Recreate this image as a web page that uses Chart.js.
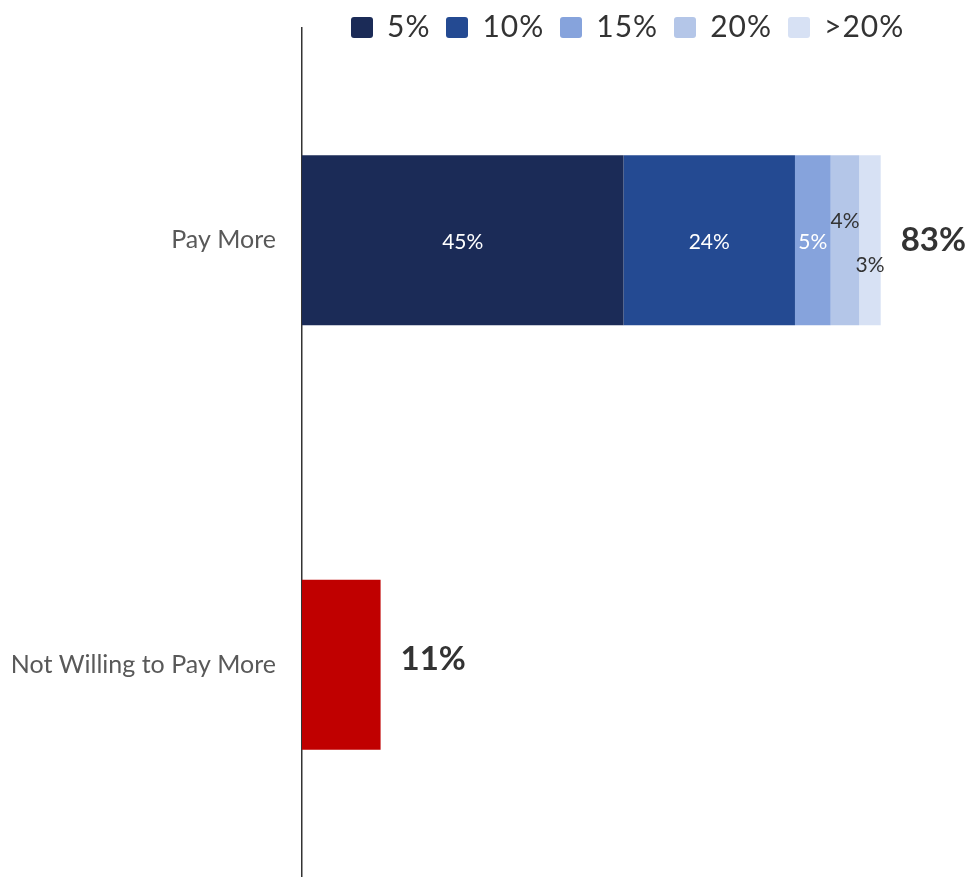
<!DOCTYPE html>
<html>
<head>
<meta charset="utf-8">
<script src="https://cdn.jsdelivr.net/npm/chart.js@4.4.1/dist/chart.umd.min.js"></script>
<style>
html,body{margin:0;padding:0;background:#fff;}
#wrap{position:relative;width:970px;height:877px;}
#legend{position:absolute;top:7px;left:351px;display:flex;align-items:center;font-family:Lato,"Open Sans",sans-serif;font-size:30px;letter-spacing:1px;color:#333;}
#legend .item{display:flex;align-items:center;margin-right:16px;}
#legend .box{width:22px;height:21px;border-radius:3px;margin-right:14px;margin-top:4px;}
</style>
</head>
<body>
<div id="wrap">
<canvas id="chart" width="970" height="877"></canvas>
<div id="legend"></div>
</div>
<script>
// categories and series
const categories = ['Pay More', 'Not Willing to Pay More'];
const bandLabels = ['5%', '10%', '15%', '20%', '>20%'];
const bandColors = ['#1b2b57', '#244a92', '#86a3dc', '#b4c6e8', '#d7e1f4'];
const payMoreBands = [45, 24, 5, 4, 3];
const notWilling = [11];
const totals = [83, 11];

const FONT = 'Lato, "Open Sans", sans-serif';

// segment label colour / vertical offset per band
const labelColor = ['#fff', '#fff', '#fff', '#333', '#333'];
const labelDy = [2, 2, 2, -19, 25];

const datasets = bandLabels.map((lab, i) => ({
  label: lab,
  data: [payMoreBands[i], null],
  backgroundColor: bandColors[i],
  stack: 's'
}));
datasets.push({
  label: 'Not Willing',
  data: [null, notWilling[0]],
  backgroundColor: '#c00000',
  stack: 's'
});

// legend built from the band arrays
const legendEl = document.getElementById('legend');
bandLabels.forEach((lab, i) => {
  const it = document.createElement('div');
  it.className = 'item';
  it.innerHTML = '<span class="box" style="background:' + bandColors[i] + '"></span><span>' + lab + '</span>';
  legendEl.appendChild(it);
});

const barLabels = {
  id: 'barLabels',
  afterDatasetsDraw(chart){
    const ctx = chart.ctx;
    ctx.save();
    ctx.textBaseline = 'middle';
    // segment values
    for(let d = 0; d < bandLabels.length; d++){
      const el = chart.getDatasetMeta(d).data[0];
      if(!el) continue;
      const v = chart.data.datasets[d].data[0];
      ctx.font = '21px ' + FONT;
      ctx.fillStyle = labelColor[d];
      ctx.textAlign = 'center';
      ctx.fillText(v + '%', (el.x + el.base) / 2, el.y + labelDy[d]);
    }
    // totals at bar ends
    const lastBlue = chart.getDatasetMeta(bandLabels.length - 1).data[0];
    const red = chart.getDatasetMeta(bandLabels.length).data[1];
    ctx.textAlign = 'left';
    ctx.fillStyle = '#333';
    ctx.font = 'bold 33px ' + FONT;
    ctx.fillText(totals[0] + '%', lastBlue.x + 20, lastBlue.y);
    ctx.fillText(totals[1] + '%', red.x + 20, red.y - 5);
    ctx.restore();
  }
};

new Chart(document.getElementById('chart').getContext('2d'), {
  type: 'bar',
  data: {labels: categories, datasets},
  plugins: [barLabels],
  options: {
    indexAxis: 'y',
    responsive: false,
    animation: false,
    layout: {padding: {top: 28, right: 25, bottom: -2, left: 0}},
    datasets: {bar: {barPercentage: 0.4, categoryPercentage: 1, borderWidth: 0}},
    plugins: {legend: {display: false}, tooltip: {enabled: false}},
    scales: {
      x: {stacked: true, min: 0, max: 90, display: false},
      y: {
        stacked: true,
        grid: {display: false, drawTicks: false},
        border: {display: true, color: '#333', width: 1.5},
        ticks: {color: '#595959', padding: 26, font: {family: FONT, size: 25}},
        // labels sit mid-band, so no edge padding is needed
        afterFit(scale){ scale.width = 302; scale.paddingTop = 0; scale.paddingBottom = 0; }
      }
    }
  }
});
</script>
</body>
</html>
